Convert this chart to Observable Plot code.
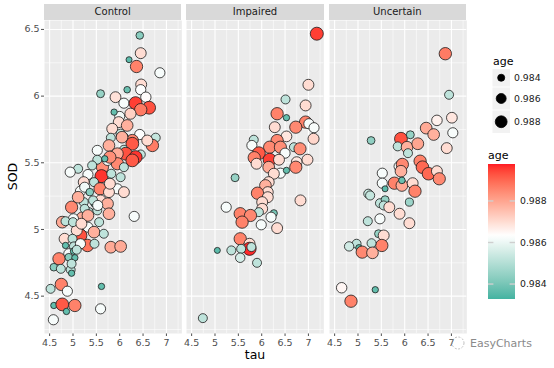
<!DOCTYPE html>
<html><head><meta charset="utf-8">
<script src="https://cdn.jsdelivr.net/npm/d3@7"></script>
<script src="https://cdn.jsdelivr.net/npm/@observablehq/plot@0.6"></script>
<style>
body{margin:0;background:#fff;}
#root{position:relative;width:554px;height:368px;overflow:hidden;font-family:"DejaVu Sans",sans-serif;}
.strip{position:absolute;top:4px;height:15.5px;background:#d9d9d9;color:#1a1a1a;font-size:10px;line-height:15.5px;text-align:center;}
.atitle{position:absolute;font-size:12.5px;color:#000;}
svg{position:absolute;}
</style></head>
<body><div id="root"></div>
<script>
// ---------- data ----------
const facets = ["Control", "Impaired", "Uncertain"];

const controlTau = [6.43,6.45,6.20,6.36,6.86,6.46,6.45,5.59,6.16,5.91,6.56,6.09,6.34,6.63,6.45,6.00,5.88,6.23,5.98,6.16,5.84,6.02,6.43,6.77,6.70,6.59,5.81,6.27,6.11,5.77,6.27,6.09,6.13,6.45,6.34,6.27,5.95,5.52,5.95,5.63,5.74,6.09,6.02,5.52,5.41,5.11,4.94,5.32,5.61,5.45,5.23,5.58,5.95,6.09,5.77,5.16,4.97,5.23,5.45,5.59,5.74,5.34,5.52,5.77,6.31,5.20,5.01,4.77,4.84,5.32,5.56,5.16,5.08,5.45,5.31,5.46,5.66,5.81,6.02,4.82,4.99,4.84,5.02,5.16,4.91,5.01,5.08,4.70,4.91,5.04,4.59,4.74,4.95,4.97,4.75,4.88,4.52,5.61,4.59,4.77,5.04,4.86,5.59,4.58,6.05,5.79,5.68,5.82,5.25,5.79,5.36,5.11,5.43,5.25,5.53,5.32,5.00,5.18,4.97];
const controlSOD = [6.455,6.322,6.273,6.222,6.175,6.087,6.048,6.018,6.048,5.992,5.992,5.947,5.947,5.913,5.898,5.848,5.880,5.868,5.805,5.780,5.755,5.718,5.712,5.688,5.630,5.667,5.688,5.667,5.698,5.630,5.643,5.598,5.568,5.562,5.542,5.518,5.568,5.593,5.493,5.467,5.518,5.467,5.392,5.523,5.480,5.455,5.430,5.412,5.400,5.355,5.355,5.305,5.305,5.280,5.280,5.287,5.167,5.205,5.193,5.218,5.193,5.130,5.143,5.118,5.098,5.088,5.080,5.055,5.062,5.017,5.055,4.955,4.993,4.980,4.880,4.893,4.968,4.867,4.873,4.930,4.930,4.880,4.873,4.893,4.818,4.837,4.848,4.780,4.792,4.788,4.717,4.705,4.698,4.672,4.588,4.537,4.555,4.573,4.430,4.438,4.430,4.385,4.405,4.323,5.692,5.542,5.530,5.418,5.317,5.343,5.280,5.242,5.218,5.155,5.180,5.105,5.055,5.043,4.743];
const controlAge = [0.9843,0.9870,0.9836,0.9886,0.9862,0.9870,0.9863,0.9845,0.9838,0.9869,0.9864,0.9862,0.9895,0.9893,0.9887,0.9861,0.9837,0.9872,0.9870,0.9878,0.9870,0.9853,0.9863,0.9853,0.9887,0.9870,0.9852,0.9885,0.9837,0.9878,0.9892,0.9852,0.9893,0.9853,0.9896,0.9892,0.9879,0.9862,0.9885,0.9884,0.9862,0.9852,0.9852,0.9852,0.9852,0.9852,0.9862,0.9862,0.9896,0.9852,0.9870,0.9886,0.9862,0.9870,0.9870,0.9862,0.9885,0.9852,0.9837,0.9870,0.9878,0.9852,0.9852,0.9878,0.9862,0.9878,0.9862,0.9879,0.9852,0.9862,0.9852,0.9893,0.9870,0.9878,0.9888,0.9852,0.9852,0.9879,0.9879,0.9870,0.9852,0.9837,0.9852,0.9862,0.9862,0.9837,0.9852,0.9886,0.9843,0.9837,0.9843,0.9852,0.9852,0.9837,0.9886,0.9862,0.9852,0.9837,0.9837,0.9892,0.9886,0.9837,0.9862,0.9862,0.9878,0.9884,0.9837,0.9852,0.9861,0.9870,0.9843,0.9878,0.9852,0.9852,0.9862,0.9878,0.9852,0.9870,0.9852];

const impairedTau = [7.18,7.00,6.51,6.94,6.33,6.53,6.94,7.01,7.12,6.73,6.28,7.11,6.53,5.83,5.79,6.33,6.17,6.40,6.69,6.82,6.50,5.94,5.84,6.17,6.37,6.75,6.98,6.73,5.89,6.15,6.40,6.53,6.26,5.43,6.15,6.08,6.13,5.91,6.13,6.01,6.83,5.24,6.01,5.94,6.26,5.54,5.76,6.20,5.58,5.99,6.33,5.54,5.74,5.74,5.78,5.56,5.35,5.05,5.54,5.90,4.74];
const impairedSOD = [6.468,6.085,5.975,5.930,5.868,5.838,5.805,5.793,5.763,5.767,5.767,5.680,5.698,5.673,5.630,5.667,5.617,5.617,5.617,5.605,5.572,5.572,5.538,5.523,5.523,5.505,5.523,5.467,5.493,5.467,5.422,5.443,5.418,5.388,5.355,5.330,5.280,5.272,5.242,5.205,5.218,5.167,5.155,5.130,5.122,5.118,5.105,5.092,5.055,5.035,5.010,4.930,4.893,4.855,4.868,4.855,4.843,4.843,4.788,4.750,4.335];
const impairedAge = [0.9895,0.9870,0.9852,0.9870,0.9886,0.9837,0.9886,0.9862,0.9862,0.9885,0.9870,0.9871,0.9868,0.9852,0.9862,0.9885,0.9885,0.9884,0.9852,0.9884,0.9862,0.9892,0.9886,0.9895,0.9870,0.9868,0.9870,0.9885,0.9870,0.9879,0.9862,0.9837,0.9870,0.9845,0.9870,0.9878,0.9870,0.9886,0.9870,0.9870,0.9870,0.9862,0.9870,0.9852,0.9840,0.9886,0.9885,0.9862,0.9886,0.9862,0.9870,0.9886,0.9870,0.9897,0.9852,0.9852,0.9852,0.9836,0.9856,0.9852,0.9852];

const uncertainTau = [6.87,6.95,6.69,7.01,6.46,6.62,7.03,6.90,5.28,5.92,6.12,5.85,6.05,6.28,6.07,5.88,5.95,5.92,6.33,6.38,6.51,6.69,6.74,5.52,5.52,5.78,5.94,6.17,6.22,5.58,5.94,5.22,5.26,5.47,5.58,5.55,5.67,6.10,5.89,6.10,5.21,5.47,5.44,5.55,5.51,5.29,4.97,4.81,5.02,5.09,5.31,4.65,5.37,4.85];
const uncertainSOD = [6.318,6.010,5.818,5.838,5.760,5.712,5.725,5.610,5.667,5.680,5.710,5.623,5.617,5.643,5.572,5.473,5.488,5.437,5.512,5.467,5.418,5.437,5.380,5.422,5.347,5.347,5.330,5.347,5.287,5.305,5.368,5.268,5.255,5.197,5.223,5.180,5.167,5.205,5.118,5.047,5.062,5.080,4.968,4.955,4.880,4.897,4.893,4.873,4.863,4.830,4.825,4.563,4.548,4.462];
const uncertainAge = [0.9887,0.9852,0.9866,0.9868,0.9879,0.9878,0.9862,0.9870,0.9844,0.9893,0.9845,0.9852,0.9878,0.9880,0.9852,0.9862,0.9885,0.9878,0.9886,0.9890,0.9890,0.9870,0.9885,0.9862,0.9862,0.9886,0.9879,0.9870,0.9886,0.9836,0.9838,0.9853,0.9853,0.9852,0.9845,0.9852,0.9870,0.9846,0.9870,0.9870,0.9852,0.9862,0.9845,0.9870,0.9886,0.9852,0.9852,0.9855,0.9837,0.9885,0.9878,0.9865,0.9837,0.9886];

const xTicks = [4.5, 5, 5.5, 6, 6.5, 7];
const xMinor = [4.75, 5.25, 5.75, 6.25, 6.75, 7.25];
const yTicks = [4.5, 5, 5.5, 6, 6.5];
const yMinor = [4.25, 4.75, 5.25, 5.75, 6.25];
const ageBreaks = [0.984, 0.986, 0.988];
const ageLimits = [0.98328, 0.98978];
const ageMid = 0.98634;
const fillColors = ["#42b3a1", "#ffffff", "#ff1a24"];

// ---------- build rows ----------
const series = {
  Control: [controlTau, controlSOD, controlAge],
  Impaired: [impairedTau, impairedSOD, impairedAge],
  Uncertain: [uncertainTau, uncertainSOD, uncertainAge]
};
const rowsFor = f => series[f][0].map((t, i) => ({group: f, tau: t, SOD: series[f][1][i], age: series[f][2][i]}));

const ageSpan = ageLimits[1] - ageLimits[0];
const rOpts = {type: "sqrt", domain: [0, ageSpan], range: [2.0, 6.6]};
const colorOpts = {type: "linear", domain: [ageLimits[0], ageMid, ageLimits[1]], range: fillColors, interpolate: "lab"};

const root = document.getElementById("root");
const panelW = 137.33, gap = 5, left0 = 44, top0 = 20, panelBottom = 333;
const xDomain = [4.39, 7.33];
const yDomain = [4.22, 6.567];
const fmt = d => String(d);

facets.forEach((f, i) => {
  const pl = left0 + i * (panelW + gap);
  const ml = i === 0 ? left0 : 0;
  const svg = Plot.plot({
    width: panelW + ml,
    height: 355,
    marginLeft: ml, marginRight: 0, marginTop: top0, marginBottom: 355 - panelBottom,
    style: {fontFamily: "DejaVu Sans, sans-serif", fontSize: "9.5px", color: "#4d4d4d", background: "transparent", overflow: "visible"},
    x: {domain: xDomain, ticks: xTicks, tickFormat: fmt, tickSize: 3, tickPadding: 3, label: null},
    y: {domain: yDomain, ticks: yTicks, tickFormat: fmt, tickSize: 3, tickPadding: 2, label: null, axis: i === 0 ? "left" : null},
    r: rOpts,
    color: colorOpts,
    marks: [
      Plot.frame({fill: "#ebebeb", stroke: null}),
      Plot.ruleX(xMinor, {stroke: "#ffffff", strokeWidth: 0.55}),
      Plot.ruleY(yMinor, {stroke: "#ffffff", strokeWidth: 0.55}),
      Plot.ruleX(xTicks, {stroke: "#ffffff", strokeWidth: 1.1}),
      Plot.ruleY(yTicks, {stroke: "#ffffff", strokeWidth: 1.1}),
      Plot.dot(rowsFor(f), {x: "tau", y: "SOD", r: d => d.age - ageLimits[0], fill: "age", stroke: "#1a1a1a", strokeWidth: 0.8, sort: null})
    ]
  });
  svg.style.left = (pl - ml) + "px";
  svg.style.top = "0px";
  root.appendChild(svg);

  const strip = document.createElement("div");
  strip.className = "strip";
  strip.style.left = pl + "px";
  strip.style.width = panelW + "px";
  strip.textContent = f;
  root.appendChild(strip);
});

// axis titles
const tauT = document.createElement("div");
tauT.className = "atitle"; tauT.textContent = "tau";
tauT.style.left = "0px"; tauT.style.width = (2 * left0 + 3 * panelW + 2 * gap) + "px";
tauT.style.textAlign = "center"; tauT.style.top = "347px";
root.appendChild(tauT);

const sodT = document.createElement("div");
sodT.className = "atitle"; sodT.textContent = "SOD";
sodT.style.left = "-8px"; sodT.style.top = "169px"; sodT.style.width = "40px"; sodT.style.textAlign = "center";
sodT.style.transform = "rotate(-90deg)";
root.appendChild(sodT);

// ---------- legends ----------
let rScale, cScale;
try { const s = Plot.scale({r: rOpts}); rScale = v => s.apply(v); } catch (e) { const s = d3.scaleSqrt().domain(rOpts.domain).range(rOpts.range); rScale = s; }
try { const s = Plot.scale({color: colorOpts}); cScale = v => s.apply(v); } catch (e) { const s = d3.scaleLinear().domain(colorOpts.domain).range(fillColors).interpolate(d3.interpolateLab); cScale = s; }

const lg = d3.create("svg").attr("width", 554).attr("height", 368)
  .style("left", "0px").style("top", "0px").style("font-family", "DejaVu Sans, sans-serif");

// size legend
lg.append("text").attr("x", 493).attr("y", 65).attr("font-size", 11).attr("fill", "#000").text("age");
const keyY = [[69, 86.5], [87.5, 109.5], [110.5, 133]];
ageBreaks.forEach((b, i) => {
  const [y0, y1] = keyY[i];
  lg.append("rect").attr("x", 492.5).attr("y", y0).attr("width", 17.5).attr("height", y1 - y0).attr("fill", "#f2f2f2");
  const cy = (y0 + y1) / 2;
  lg.append("circle").attr("cx", 501.2).attr("cy", cy).attr("r", rScale(b - ageLimits[0])).attr("fill", "#000").attr("stroke", "#000").attr("stroke-width", 0.8);
  lg.append("text").attr("x", 514).attr("y", cy).attr("dy", "0.35em").attr("font-size", 9.3).attr("fill", "#1a1a1a").text(d3.format(".3f")(b));
});

// colour legend
lg.append("text").attr("x", 488).attr("y", 159).attr("font-size", 11).attr("fill", "#000").text("age");
const barTop = 164, barBot = 299, barX = 488, barW = 27;
const by = d3.scaleLinear().domain(ageLimits).range([barBot, barTop]);
const grad = lg.append("defs").append("linearGradient").attr("id", "ageGrad").attr("x1", 0).attr("y1", 1).attr("x2", 0).attr("y2", 0);
d3.range(0, 41).forEach(k => {
  const v = ageLimits[0] + ageSpan * k / 40;
  grad.append("stop").attr("offset", (k / 40)).attr("stop-color", cScale(v));
});
lg.append("rect").attr("x", barX).attr("y", barTop).attr("width", barW).attr("height", barBot - barTop).attr("fill", "url(#ageGrad)");
ageBreaks.forEach(b => {
  const y = by(b);
  lg.append("line").attr("x1", barX).attr("x2", barX + 5.4).attr("y1", y).attr("y2", y).attr("stroke", "#cfcfcf").attr("stroke-width", 1.4);
  lg.append("line").attr("x1", barX + barW - 5.4).attr("x2", barX + barW).attr("y1", y).attr("y2", y).attr("stroke", "#cfcfcf").attr("stroke-width", 1.4);
  lg.append("text").attr("x", 520).attr("y", y).attr("dy", "0.35em").attr("font-size", 9.3).attr("fill", "#1a1a1a").text(d3.format(".3f")(b));
});

// watermark
lg.append("circle").attr("cx", 458).attr("cy", 343).attr("r", 6).attr("fill", "none").attr("stroke", "#b0b0b0").attr("stroke-width", 0.8).attr("stroke-dasharray", "2,1.5");
lg.append("text").attr("x", 470).attr("y", 347).attr("font-size", 11).attr("fill", "#8a8a8a").text("EasyCharts");

root.appendChild(lg.node());
</script>
</body></html>
